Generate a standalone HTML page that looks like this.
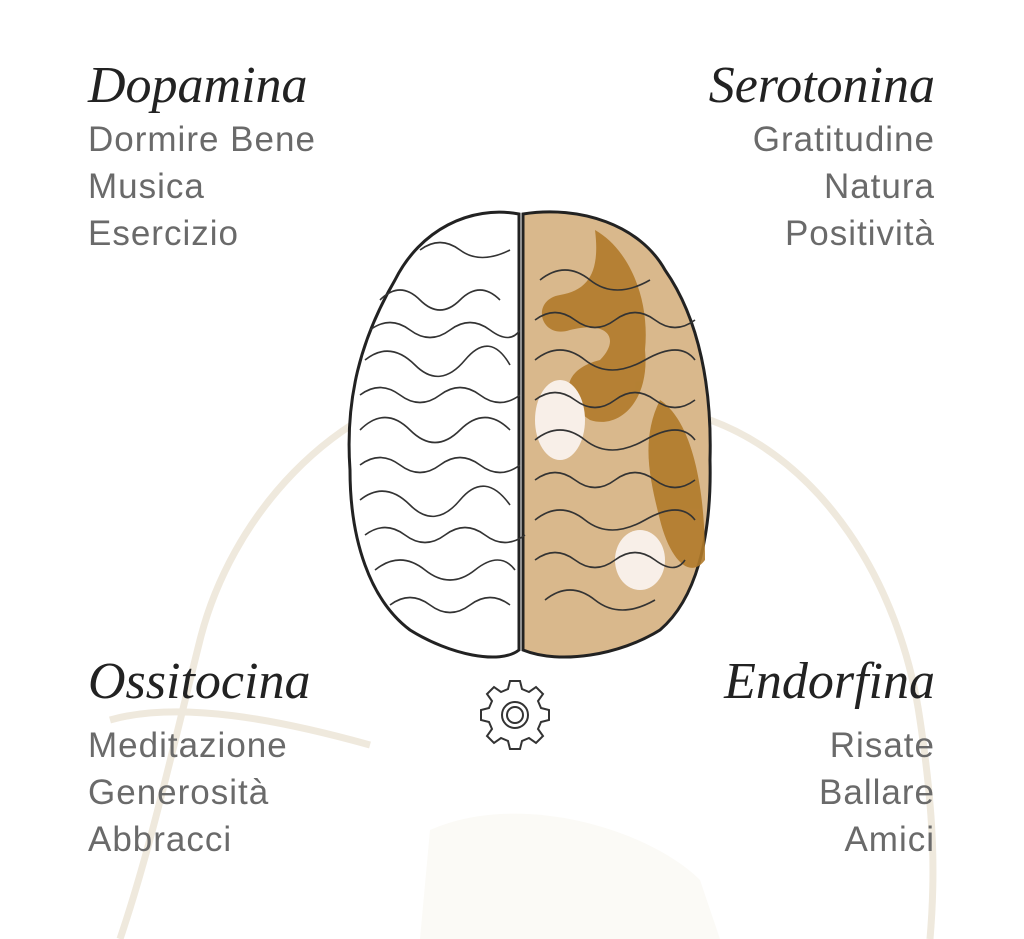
<!DOCTYPE html>
<html><head><meta charset="utf-8"><style>
body{margin:0;width:1024px;height:939px;background:#fff;position:relative;overflow:hidden;font-family:"Liberation Sans",sans-serif}
.t{position:absolute;font-family:"Liberation Serif",serif;font-style:italic;font-size:52px;color:#222;line-height:1}
.l{position:absolute;font-size:35px;letter-spacing:1px;color:#6a6a6a;line-height:47px}
.r{text-align:right}
</style></head><body>
<svg width="1024" height="939" style="position:absolute;left:0;top:0">
<g fill="none" stroke="#efe9dd" stroke-width="7">
<path d="M470 380 C330 400 230 520 200 640 C170 760 150 850 120 939"/>
<path d="M710 420 C820 460 900 580 920 720 C935 820 935 880 930 939"/>
<path d="M110 720 C180 700 280 720 370 745"/>
</g>
<path d="M430 830 C520 790 650 830 700 880 L720 939 L420 939 Z" fill="#fbfaf6"/>
<path d="M519 214 C470 205 420 230 395 280 C360 340 345 400 350 470 C350 540 370 600 410 630 C450 655 500 665 519 650 Z" fill="#fff" stroke="#222" stroke-width="3"/>
<path d="M523 214 C580 205 640 225 665 270 C700 320 712 390 710 460 C712 540 695 600 660 630 C620 655 560 665 523 650 Z" fill="#d9b88c" stroke="#222" stroke-width="3"/>
<g fill="#b07a2a" opacity="0.9">
<path d="M595 230 C630 250 650 300 645 350 C650 400 620 430 590 420 C560 400 560 370 600 360 C620 340 610 320 570 330 C540 340 530 300 560 295 C590 290 600 270 595 230 Z"/>
<path d="M660 400 C690 420 705 480 705 560 C690 580 670 560 660 520 C650 480 640 440 660 400 Z"/>
</g>
<g fill="#f8efe8"><ellipse cx="560" cy="420" rx="25" ry="40"/><ellipse cx="640" cy="560" rx="25" ry="30"/></g>
<g fill="none" stroke="#333" stroke-width="1.6">
<path d="M380 300 q20 -20 40 0 t40 0 t40 0"/><path d="M365 360 q25 -20 50 5 t50 -5 t45 5"/>
<path d="M360 430 q25 -25 50 0 t50 0 t50 0"/><path d="M360 500 q25 -20 50 5 t50 -5 t50 5"/>
<path d="M375 570 q25 -20 50 0 t50 0 t40 0"/><path d="M420 250 q20 -15 40 0 t50 0"/>
<path d="M370 330 q20 -15 40 0 t40 0 t40 0 t30 0"/><path d="M360 395 q20 -15 40 0 t40 0 t40 0 t40 0"/>
<path d="M360 465 q20 -15 40 0 t40 0 t40 0 t40 0"/><path d="M365 535 q20 -15 40 0 t40 0 t40 0 t40 0"/>
<path d="M390 605 q20 -15 40 0 t40 0 t40 0"/>
<path d="M540 280 q25 -20 50 0 t60 0"/><path d="M535 360 q25 -20 50 0 t60 0 t50 0"/>
<path d="M535 440 q25 -20 50 0 t60 0 t50 0"/><path d="M535 520 q25 -20 50 0 t60 0 t50 0"/>
<path d="M545 600 q25 -20 50 0 t60 0"/>
<path d="M535 320 q20 -15 40 0 t40 0 t40 0 t40 0"/><path d="M535 400 q20 -15 40 0 t40 0 t40 0 t40 0"/>
<path d="M535 480 q20 -15 40 0 t40 0 t40 0 t40 0"/><path d="M535 560 q20 -15 40 0 t40 0 t40 0 t30 0"/>
</g>
<g transform="translate(515,715)" fill="none" stroke="#333" stroke-width="2">
<path d="M-5 -34 h10 l2 8 l7 3 l7 -5 l7 7 l-5 7 l3 7 l8 2 v10 l-8 2 l-3 7 l5 7 l-7 7 l-7 -5 l-7 3 l-2 8 h-10 l-2 -8 l-7 -3 l-7 5 l-7 -7 l5 -7 l-3 -7 l-8 -2 v-10 l8 -2 l3 -7 l-5 -7 l7 -7 l7 5 l7 -3 Z"/>
<circle r="13"/><circle r="8"/>
</g>
</svg>
<div class="t" style="left:88px;top:60px">Dopamina</div>
<div class="l" style="left:88px;top:116px">Dormire Bene<br>Musica<br>Esercizio</div>
<div class="t r" style="right:89px;top:60px">Serotonina</div>
<div class="l r" style="right:89px;top:116px">Gratitudine<br>Natura<br>Positività</div>
<div class="t" style="left:88px;top:656px">Ossitocina</div>
<div class="l" style="left:88px;top:722px">Meditazione<br>Generosità<br>Abbracci</div>
<div class="t r" style="right:89px;top:656px">Endorfina</div>
<div class="l r" style="right:89px;top:722px">Risate<br>Ballare<br>Amici</div>
</body></html>
